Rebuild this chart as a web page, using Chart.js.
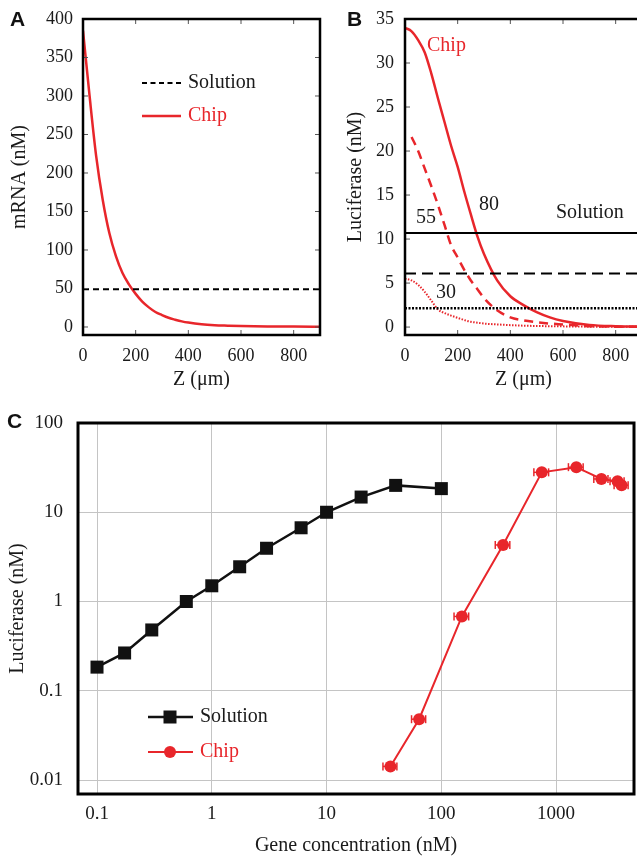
<!DOCTYPE html>
<html><head><meta charset="utf-8">
<script src="https://cdn.jsdelivr.net/npm/chart.js@4.4.0/dist/chart.umd.min.js"></script>
<style>
html,body{margin:0;padding:0;background:#fff;overflow:hidden;width:637px;height:856px;position:relative;}
canvas{position:absolute;}
#cA{left:0;top:0;}
#cB{left:320px;top:0;}
#cC{left:0;top:400px;}
</style></head><body>
<canvas id="cA" width="330" height="400" style="width:330px;height:400px"></canvas>
<canvas id="cB" width="332" height="400" style="width:332px;height:400px"></canvas>
<canvas id="cC" width="637" height="456" style="width:637px;height:456px"></canvas>
<script>
// ---------- Panel A data ----------
const aZ = [0,25,50,75,100,125,150,175,200,225,250,275,300,325,350,375,400,450,500,550,600,700,800,900];
const aChipMRNA = [385,300,222,165,122,92,70,55,43,33,25.5,19.5,15.5,12,9.5,7.3,5.7,3.5,2.3,1.7,1.2,0.7,0.5,0.4];
const aSolutionMRNA = 49;
const aZSpan = [0, 900];
const aXTicks = [0,200,400,600,800];
const aYTicks = [0,50,100,150,200,250,300,350,400];

// ---------- Panel B data ----------
const bZ = [0,25,50,75,100,125,150,175,200,225,250,275,300,350,400,450,500,550,600,700,800,900];
const bChip80 = [34,33.6,32.6,31.2,28.8,26,23.3,20.6,18.2,15.4,12.8,10.3,8.3,5.3,3.5,2.5,1.7,1.1,0.7,0.25,0.1,0.05];
const bZ55 = [25,50,75,100,125,150,175,200,225,250,275,300,350,400,450,500,550,600,700,800,900];
const bChip55 = [21.6,20,18,16,13.9,11.6,9.3,7.9,6.5,5.3,4.3,3.3,1.9,1.1,0.75,0.55,0.4,0.3,0.1,0.05,0.03];
const bChip30 = [5.5,5.3,4.8,4.0,3.0,2.0,1.6,1.3,1.05,0.8,0.6,0.5,0.4,0.3,0.22,0.16,0.12,0.1,0.08,0.05,0.04,0.03];
const bSolution = [10.7, 6.1, 2.15]; // 80, 55, 30
const bZSpan = [0, 900];
const bXTicks = [0,200,400,600,800];
const bYTicks = [0,5,10,15,20,25,30,35];

// ---------- Panel C data ----------
const solConc = [0.1,0.174,0.3,0.6,1,1.75,3,6,10,20,40,100];
const solLuc  = [0.184,0.265,0.48,1.0,1.5,2.45,3.95,6.7,10,14.8,20,18.4];
const chipConc = [36,64,151,345,750,1500,2480,3430,3720];
const chipLuc  = [0.0142,0.048,0.68,4.3,28,32,23.6,22.2,20.1];
const chipConcErr = [5,9,22,50,110,220,350,480,520];
const cXTicks = [0.1,1,10,100,1000];
const cXTickLabels = ['0.1','1','10','100','1000'];
const cYTicks = [0.01,0.1,1,10,100];
const cYTickLabels = ['0.01','0.1','1','10','100'];

const RED = '#e8262b';
const SERIF = "'Liberation Serif', 'Times New Roman', serif";
const SANS = "'Liberation Sans', Arial, sans-serif";
const TXT = '#1a1a1a';

const framePlugin = {
  id: 'frame',
  afterDatasetsDraw(chart, args, o) {
    const {ctx, chartArea: a, scales} = chart;
    ctx.save();
    const line = (x1,y1,x2,y2) => { ctx.beginPath(); ctx.moveTo(x1,y1); ctx.lineTo(x2,y2); ctx.stroke(); };
    if (o.errorBars) {
      const eb = o.errorBars;
      ctx.strokeStyle = eb.color; ctx.lineWidth = 1.5;
      eb.x.forEach((xv, i) => {
        const y = scales.y.getPixelForValue(eb.y[i]);
        const x1 = scales.x.getPixelForValue(xv - eb.err[i]);
        const x2 = scales.x.getPixelForValue(xv + eb.err[i]);
        line(x1, y, x2, y);
        line(x1, y-4, x1, y+4);
        line(x2, y-4, x2, y+4);
      });
    }
    if (o.innerTicks) {
      ctx.strokeStyle = '#555'; ctx.lineWidth = 1;
      const L = o.tickLen || 5;
      scales.x.ticks.forEach(t => {
        const px = scales.x.getPixelForValue(t.value);
        if (px <= a.left + 2 || px >= a.right - 2) return;
        line(px, a.top, px, a.top + L); line(px, a.bottom, px, a.bottom - L);
      });
      scales.y.ticks.forEach(t => {
        const py = scales.y.getPixelForValue(t.value);
        if (py <= a.top + 2 || py >= a.bottom - 2) return;
        line(a.left, py, a.left + L, py); line(a.right, py, a.right - L, py);
      });
    }
    ctx.strokeStyle = '#000'; ctx.lineWidth = o.borderWidth || 2.5;
    ctx.strokeRect(a.left, a.top, a.right - a.left, a.bottom - a.top);
    if (o.legend) {
      o.legend.items.forEach(it => {
        ctx.save();
        ctx.strokeStyle = it.color; ctx.lineWidth = it.width || 2;
        ctx.setLineDash(it.dash || []);
        line(o.legend.x1, it.y, o.legend.x2, it.y);
        ctx.restore();
        if (it.marker === 'rect') { ctx.fillStyle = it.color; ctx.fillRect(o.legend.mx - 6.5, it.y - 6.5, 13, 13); }
        if (it.marker === 'circle') { ctx.fillStyle = it.color; ctx.beginPath(); ctx.arc(o.legend.mx, it.y, 6, 0, Math.PI*2); ctx.fill(); }
        ctx.fillStyle = it.textColor || it.color; ctx.font = '20px ' + SERIF;
        ctx.textAlign = 'left'; ctx.textBaseline = 'middle';
        ctx.fillText(it.text, o.legend.tx, it.y);
      });
    }
    (o.texts || []).forEach(t => {
      ctx.fillStyle = t.color || TXT; ctx.font = t.font || ('20px ' + SERIF);
      ctx.textAlign = t.align || 'left'; ctx.textBaseline = 'middle';
      ctx.fillText(t.text, t.x, t.y);
    });
    ctx.restore();
  }
};

function setTicks(vals) { return (scale) => { scale.ticks = vals.map(v => ({value: v})); }; }
function noPad(s) { s.paddingTop = 0; s.paddingBottom = 0; s.paddingLeft = 0; s.paddingRight = 0; }
function fixW(w) { return (s) => { s.width = w; noPad(s); }; }
function fixH(h) { return (s) => { s.height = h; noPad(s); }; }
const tickFont = {family: SERIF, size: 18};
const titleFont = {family: SERIF, size: 20, lineHeight: 1.2};

new Chart(document.getElementById('cA'), {
  type: 'line',
  data: { datasets: [
    { label: 'Solution', data: aZSpan.map(z => ({x: z, y: aSolutionMRNA})), borderColor: '#000', borderWidth: 2, borderDash: [6,4], pointRadius: 0 },
    { label: 'Chip', data: aZ.map((z,i) => ({x: z, y: aChipMRNA[i]})), borderColor: RED, borderWidth: 2.5, pointRadius: 0, cubicInterpolationMode: 'monotone' }
  ]},
  options: {
    responsive: false, devicePixelRatio: 1, animation: false,
    layout: { autoPadding: false, padding: {left: 0, top: 19, right: 10, bottom: 0} },
    plugins: { legend: {display: false}, tooltip: {enabled: false},
      frame: { innerTicks: true, tickLen: 5, borderWidth: 2.5,
        legend: { x1: 142, x2: 181, tx: 188, mx: 0, items: [
          {text: 'Solution', y: 83, color: '#000', dash: [5,3.5], width: 2, textColor: TXT},
          {text: 'Chip', y: 116, color: RED, width: 2.5}
        ]},
        texts: [{text: 'A', x: 10, y: 20, font: 'bold 21px ' + SANS, color: '#111'}]
      } },
    scales: {
      x: { type: 'linear', min: 0, max: 900, afterBuildTicks: setTicks(aXTicks), afterFit: fixH(65),
        grid: {display: false, drawTicks: false}, border: {display: false},
        ticks: {font: tickFont, color: TXT, padding: 10, maxRotation: 0, autoSkip: false},
        title: {display: true, text: 'Z (μm)', font: titleFont, color: TXT, padding: {top: 0, bottom: 8}} },
      y: { type: 'linear', min: -10.4, max: 400, afterBuildTicks: setTicks(aYTicks), afterFit: fixW(83),
        grid: {display: false, drawTicks: false}, border: {display: false},
        ticks: {font: tickFont, color: TXT, padding: 10, autoSkip: false},
        title: {display: true, text: 'mRNA (nM)', font: titleFont, color: TXT, padding: {top: 8, bottom: 0}} }
    }
  },
  plugins: [framePlugin]
});

new Chart(document.getElementById('cB'), {
  type: 'line',
  data: { datasets: [
    { label: 'Solution 80', data: bZSpan.map(z => ({x: z, y: bSolution[0]})), borderColor: '#000', borderWidth: 2, pointRadius: 0 },
    { label: 'Solution 55', data: bZSpan.map(z => ({x: z, y: bSolution[1]})), borderColor: '#000', borderWidth: 2, borderDash: [11,6], pointRadius: 0 },
    { label: 'Solution 30', data: bZSpan.map(z => ({x: z, y: bSolution[2]})), borderColor: '#000', borderWidth: 2.5, borderDash: [2,1.5], pointRadius: 0 },
    { label: 'Chip 80', data: bZ.map((z,i) => ({x: z, y: bChip80[i]})), borderColor: RED, borderWidth: 2.5, pointRadius: 0, cubicInterpolationMode: 'monotone' },
    { label: 'Chip 55', data: bZ55.map((z,i) => ({x: z, y: bChip55[i]})), borderColor: RED, borderWidth: 2.5, borderDash: [9,6], pointRadius: 0, cubicInterpolationMode: 'monotone' },
    { label: 'Chip 30', data: bZ.map((z,i) => ({x: z, y: bChip30[i]})), borderColor: RED, borderWidth: 2, borderDash: [1.5,1.5], pointRadius: 0, cubicInterpolationMode: 'monotone' }
  ]},
  options: {
    responsive: false, devicePixelRatio: 1, animation: false,
    layout: { autoPadding: false, padding: {left: 0, top: 19, right: 10, bottom: 0} },
    plugins: { legend: {display: false}, tooltip: {enabled: false},
      frame: { innerTicks: true, tickLen: 5, borderWidth: 2.5,
        texts: [
          {text: 'B', x: 27, y: 20, font: 'bold 21px ' + SANS, color: '#111'},
          {text: 'Chip', x: 107, y: 46, color: RED},
          {text: '80', x: 159, y: 205},
          {text: '55', x: 96, y: 218},
          {text: 'Solution', x: 236, y: 213},
          {text: '30', x: 116, y: 293}
        ]
      } },
    scales: {
      x: { type: 'linear', min: 0, max: 900, afterBuildTicks: setTicks(bXTicks), afterFit: fixH(65),
        grid: {display: false, drawTicks: false}, border: {display: false},
        ticks: {font: tickFont, color: TXT, padding: 10, maxRotation: 0, autoSkip: false},
        title: {display: true, text: 'Z (μm)', font: titleFont, color: TXT, padding: {top: 0, bottom: 8}} },
      y: { type: 'linear', min: -0.9, max: 35, afterBuildTicks: setTicks(bYTicks), afterFit: fixW(85),
        grid: {display: false, drawTicks: false}, border: {display: false},
        ticks: {font: tickFont, color: TXT, padding: 11, autoSkip: false},
        title: {display: true, text: 'Luciferase (nM)', font: titleFont, color: TXT, padding: {top: 24, bottom: 0}} }
    }
  },
  plugins: [framePlugin]
});

new Chart(document.getElementById('cC'), {
  type: 'line',
  data: { datasets: [
    { label: 'Solution', data: solConc.map((c,i) => ({x: c, y: solLuc[i]})), borderColor: '#111', backgroundColor: '#111', borderWidth: 2.5,
      pointStyle: 'rect', pointRadius: 9.2, pointBorderWidth: 0 },
    { label: 'Chip', data: chipConc.map((c,i) => ({x: c, y: chipLuc[i]})), borderColor: RED, backgroundColor: RED, borderWidth: 2,
      pointStyle: 'circle', pointRadius: 6, pointBorderWidth: 0 }
  ]},
  options: {
    responsive: false, devicePixelRatio: 1, animation: false,
    layout: { autoPadding: false, padding: {left: 0, top: 23, right: 3, bottom: 0} },
    plugins: { legend: {display: false}, tooltip: {enabled: false},
      frame: { innerTicks: false, borderWidth: 3,
        errorBars: { x: chipConc, y: chipLuc, err: chipConcErr, color: RED },
        legend: { x1: 148, x2: 193, tx: 200, mx: 170, items: [
          {text: 'Solution', y: 317, color: '#111', width: 2.5, marker: 'rect', textColor: TXT},
          {text: 'Chip', y: 352, color: RED, width: 2, marker: 'circle'}
        ]},
        texts: [{text: 'C', x: 7, y: 22, font: 'bold 21px ' + SANS, color: '#111'}]
      } },
    scales: {
      x: { type: 'logarithmic', min: 0.0683, max: 4770, afterBuildTicks: setTicks(cXTicks), afterFit: fixH(62),
        grid: {display: true, drawTicks: false, color: '#c4c4c4', lineWidth: 1}, border: {display: false},
        ticks: {font: {family: SERIF, size: 19}, color: TXT, padding: 9, maxRotation: 0, autoSkip: false,
          callback: (v, i) => cXTickLabels[i]},
        title: {display: true, text: 'Gene concentration (nM)', font: {family: SERIF, size: 20, lineHeight: 1.0}, color: TXT, padding: {top: 0, bottom: 0}} },
      y: { type: 'logarithmic', min: 0.00697, max: 100, afterBuildTicks: setTicks(cYTicks), afterFit: fixW(78),
        grid: {display: true, drawTicks: false, color: '#c4c4c4', lineWidth: 1}, border: {display: false},
        ticks: {font: {family: SERIF, size: 19}, color: TXT, padding: 15, autoSkip: false,
          callback: (v, i) => cYTickLabels[i]},
        title: {display: true, text: 'Luciferase (nM)', font: titleFont, color: TXT, padding: {top: 6, bottom: 0}} }
    }
  },
  plugins: [framePlugin]
});
</script>
</body></html>
